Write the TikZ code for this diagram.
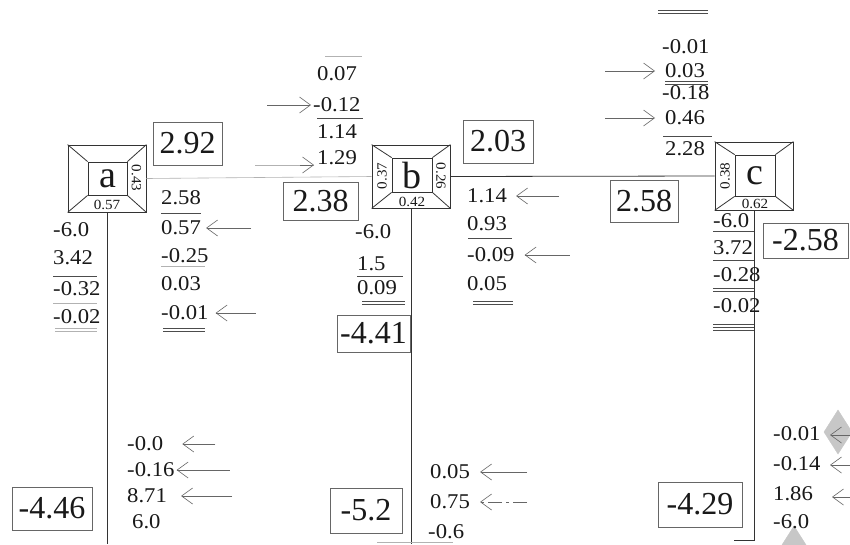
\documentclass[tikz,border=0pt]{standalone}
\usepackage{fontspec}
\setmainfont{Liberation Serif}
\newfontfamily\numf{Liberation Serif}[FakeStretch=1.08]
\usetikzlibrary{arrows.meta}
\begin{document}
\begin{tikzpicture}[x=1pt,y=-1pt,
  num/.style={anchor=west,inner sep=0pt,text=black!90,font=\numf\fontsize{21}{23}\selectfont},
  bigval/.style={draw=black!60,line width=0.6pt,inner sep=0pt,text=black!90,font=\fontsize{32}{36}\selectfont},
  jbox/.style={draw=black!80,line width=0.8pt,inner sep=0pt},
  jl/.style={font=\fontsize{38}{42}\selectfont,text=black!90},
  df/.style={inner sep=0pt,text=black!90,font=\numf\fontsize{14}{16}\selectfont},
  ul/.style={draw=black!70,line width=0.6pt},
  faint/.style={draw=black!30,line width=0.6pt},
  member/.style={draw=black!80,line width=0.8pt},
  arr/.style={draw=black!60,line width=0.6pt,-{Straight Barb[length=11pt,width=16pt]}},
]
\clip (0,0) rectangle (850,544);
\fill[white] (0,0) rectangle (850,544);

% ---------- joints ----------
\node[jbox,minimum width=78pt,minimum height=67pt] (A) at (107,178.5) {};
\node[jbox,jl,minimum width=39pt,minimum height=33pt] (Ai) at (107.5,178.5) {a};
\draw[member] (A.north west)--(Ai.north west) (A.north east)--(Ai.north east)
              (A.south west)--(Ai.south west) (A.south east)--(Ai.south east);
\node[df,rotate=-90] (a43) at (136.5,178) {0.43};
\node[df] (a57) at (107,204.5) {0.57};

\node[jbox,minimum width=78pt,minimum height=63pt] (B) at (411,176.5) {};
\node[jbox,jl,minimum width=40pt,minimum height=34pt] (Bi) at (412,175) {b};
\draw[member] (B.north west)--(Bi.north west) (B.north east)--(Bi.north east)
              (B.south west)--(Bi.south west) (B.south east)--(Bi.south east);
\node[df,rotate=90] (b37) at (382,176) {0.37};
\node[df,rotate=-90] (b26) at (441,176) {0.26};
\node[df] (b42) at (412,201.5) {0.42};

\node[jbox,minimum width=78pt,minimum height=68pt] (C) at (754,176) {};
\node[jbox,jl,minimum width=40pt,minimum height=41pt] (Ci) at (755,175.5) {c};
\draw[member] (C.north west)--(Ci.north west) (C.north east)--(Ci.north east)
              (C.south west)--(Ci.south west) (C.south east)--(Ci.south east);
\node[df,rotate=90] (c38) at (725,176) {0.38};
\node[df] (c62) at (755,203.5) {0.62};

% ---------- members ----------
\coordinate (aBase) at (107,544);
\coordinate (bBase) at (411,544);
\coordinate (cBase) at (754,540);
\coordinate (cFoot) at (734,540);
\draw[faint] (A.east) -- (B.west);
\draw[member] (B.east) -- (C.west);
\draw[member] (A.south) -- (aBase);
\draw[member] (B.south) -- (bBase);
\draw[member] (C.south) -- (cBase) -- (cFoot);
\draw[faint] (377,542) -- (453,542);

% ---------- boxed end moments ----------
\node[bigval,minimum width=69pt,minimum height=43pt] (v292) at (187.5,143.5) {2.92};
\node[bigval,minimum width=75pt,minimum height=38pt] (v238) at (320.5,201) {2.38};
\node[bigval,minimum width=73pt,minimum height=37pt] (v441) at (373.5,333.5) {-4.41};
\node[bigval,minimum width=70pt,minimum height=43pt] (v203) at (498,141.5) {2.03};
\node[bigval,minimum width=68pt,minimum height=42pt] (v258b) at (644,201) {2.58};
\node[bigval,minimum width=85pt,minimum height=35pt] (v258c) at (805.5,240.5) {-2.58};
\node[bigval,minimum width=80pt,minimum height=43pt] (v446) at (52,508.5) {-4.46};
\node[bigval,minimum width=72pt,minimum height=45pt] (v52) at (366,510.5) {-5.2};
\node[bigval,minimum width=84pt,minimum height=45pt] (v429) at (700,504.5) {-4.29};

% ---------- a: column top (left) ----------
\node[num] (al1) at (53,230) {-6.0};
\node[num] (al2) at (53,258) {3.42};
\node[num] (al3) at (53,289) {-0.32};
\node[num] (al4) at (53,317) {-0.02};
\draw[ul] (53,276) -- (97,276);
\draw[faint] (53,303) -- (97,303);
\draw[faint] (55,328) -- (97,328) (55,331) -- (97,331);

% ---------- a: beam end ab ----------
\node[num] (ar1) at (161,198) {2.58};
\node[num] (ar2) at (161,228) {0.57};
\node[num] (ar3) at (161,256) {-0.25};
\node[num] (ar4) at (161,284) {0.03};
\node[num] (ar5) at (161,313) {-0.01};
\draw[ul] (161,213) -- (201,213);
\draw[faint] (161,266) -- (205,266);
\draw[ul] (163,328) -- (205,328) (163,331) -- (205,331);
\draw[arr] ([xshift=50pt]ar2.east) -- ([xshift=5pt]ar2.east);
\draw[arr] ([xshift=47pt]ar5.east) -- ([xshift=7pt]ar5.east);

% ---------- b: beam end ba ----------
\node[num] (bt1) at (317,74) {0.07};
\node[num] (bt2) at (313,105) {-0.12};
\node[num] (bt3) at (317,132) {1.14};
\node[num] (bt4) at (317,158) {1.29};
\draw[faint] (325,56) -- (362,56);
\draw[ul] (317,118) -- (363,118);
\draw[arr] ([xshift=-46pt]bt2.west) -- ([xshift=-2pt]bt2.west);
\coordinate (bt4tail) at (255,165);
\coordinate (bt4tip) at (314,165);
\draw[faint] (bt4tail) -- (bt4tip);
\draw[arr,shorten <=45pt] (bt4tail) -- (bt4tip);

% ---------- b: column top ----------
\node[num] (bl1) at (355,232) {-6.0};
\node[num] (bl2) at (357,264) {1.5};
\node[num] (bl3) at (357,288) {0.09};
\draw[ul] (357,276) -- (403,276);
\draw[ul] (362,301) -- (405,301) (362,304) -- (405,304);

% ---------- b: beam end bc ----------
\node[num] (br1) at (467,196) {1.14};
\node[num] (br2) at (467,224) {0.93};
\node[num] (br3) at (467,255) {-0.09};
\node[num] (br4) at (467,284) {0.05};
\draw[ul] (468,238) -- (512,238);
\draw[ul] (473,301) -- (513,301) (473,304) -- (513,304);
\draw[arr] ([xshift=52pt]br1.east) -- ([xshift=9pt]br1.east);
\draw[arr] ([xshift=55pt]br3.east) -- ([xshift=10pt]br3.east);

% ---------- c: beam end cb ----------
\node[num] (ct1) at (662,47) {-0.01};
\node[num] (ct2) at (665,71) {0.03};
\node[num] (ct3) at (662,93) {-0.18};
\node[num] (ct4) at (665,118) {0.46};
\node[num] (ct5) at (665,149) {2.28};
\draw[ul] (658,10) -- (708,10) (658,13) -- (708,13);
\draw[ul] (665,81) -- (708,81) (665,84) -- (708,84);
\draw[ul] (663,136) -- (712,136);
\draw[arr] ([xshift=-60pt]ct2.west) -- ([xshift=-10pt]ct2.west);
\draw[arr] ([xshift=-60pt]ct4.west) -- ([xshift=-10pt]ct4.west);

% ---------- c: column top ----------
\node[num] (cl1) at (713,221) {-6.0};
\node[num] (cl2) at (713,248) {3.72};
\node[num] (cl3) at (713,275) {-0.28};
\node[num] (cl4) at (713,306) {-0.02};
\draw[ul] (713,231) -- (754,231);
\draw[ul] (713,260) -- (754,260);
\draw[ul] (713,288) -- (754,288) (713,291) -- (754,291);
\draw[ul] (713,324) -- (754,324) (713,327) -- (754,327) (713,330) -- (754,330);

% ---------- column bottoms ----------
\node[num] (ab1) at (127,444) {-0.0};
\node[num] (ab2) at (127,470) {-0.16};
\node[num] (ab3) at (127,496) {8.71};
\node[num] (ab4) at (132,522) {6.0};
\draw[arr] ([xshift=52pt]ab1.east) -- ([xshift=19pt]ab1.east);
\draw[arr] ([xshift=55pt]ab2.east) -- ([xshift=2pt]ab2.east);
\draw[arr] ([xshift=65pt]ab3.east) -- ([xshift=14pt]ab3.east);

\node[num] (bb1) at (430,472) {0.05};
\node[num] (bb2) at (430,502) {0.75};
\node[num] (bb3) at (428,532) {-0.6};
\draw[arr] ([xshift=57pt]bb1.east) -- ([xshift=10pt]bb1.east);
\draw[arr,dash pattern=on 14pt off 4pt on 3pt off 4pt] ([xshift=57pt]bb2.east) -- ([xshift=10pt]bb2.east);

\draw[black!22,fill=black!22] (838,410) -- (852,432) -- (838,454) -- (824,432) -- cycle;
\draw[black!22,fill=black!22] (794,526) -- (808,548) -- (794,570) -- (780,548) -- cycle;

\node[num] (cb1) at (773,434) {-0.01};
\node[num] (cb2) at (773,464) {-0.14};
\node[num] (cb3) at (773,494) {1.86};
\node[num] (cb4) at (773,522) {-6.0};
\draw[arr] (870,435) -- (830,435);
\draw[arr] (870,465) -- (830,465);
\draw[arr] (870,497) -- (832,497);
\end{tikzpicture}
\end{document}
